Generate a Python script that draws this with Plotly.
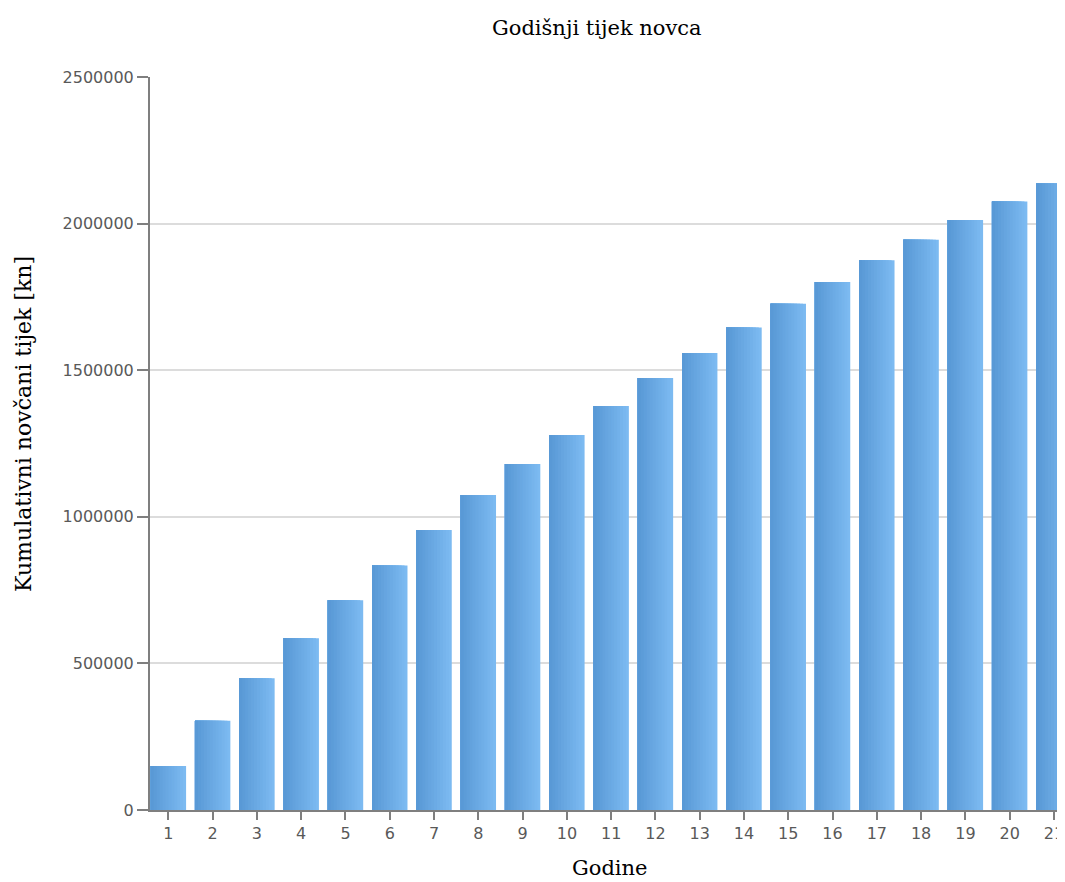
import plotly.graph_objects as go

# Data
years = list(range(1, 22))
cumulative_cash = [
    150000, 304000, 449000, 586000, 715000, 834000, 955000, 1074000, 1180000,
    1279000, 1378000, 1473000, 1559000, 1646000, 1727000, 1801000, 1875000,
    1945000, 2012000, 2075000, 2137000,
]
y_ticks = [0, 500000, 1000000, 1500000, 2000000, 2500000]

title_text = "Godišnji tijek novca"
x_title = "Godine"
y_title = "Kumulativni novčani tijek [kn]"

AXIS_COLOR = "#7f7f7f"
GRID_COLOR = "#dcdcdc"
TICK_FONT = dict(family="DejaVu Sans", size=16, color="#595959")
LIGHT = (124, 186, 241)
DARK = (89, 153, 214)
N_STEPS = 12
BAR_WIDTH = 0.8

# the page body has an 8px margin, so the figure is shifted by that much
OFF = 8
FIG_W, FIG_H = 1065 - OFF, 882 - OFF
M_L, M_T, M_B = 150 - OFF, 77 - OFF, 72


def blend(t):
    r, g, b = (int(round(LIGHT[i] + (DARK[i] - LIGHT[i]) * t)) for i in range(3))
    return f"rgb({r},{g},{b})"


fig = go.Figure()

# Stack progressively narrower bars (same left edge) to fake the
# left-dark / right-light gradient of the original bars
for k in range(N_STEPS):
    w = BAR_WIDTH * (N_STEPS - k) / N_STEPS
    fig.add_trace(go.Bar(
        x=years,
        y=cumulative_cash,
        width=w,
        offset=-BAR_WIDTH / 2,
        marker=dict(color=blend(k / (N_STEPS - 1)), line=dict(width=0)),
        hoverinfo="skip" if k else "x+y",
        showlegend=False,
    ))

fig.update_layout(
    width=FIG_W,
    height=FIG_H,
    barmode="overlay",
    paper_bgcolor="white",
    plot_bgcolor="white",
    margin=dict(l=M_L, r=0, t=M_T, b=M_B),
    font=TICK_FONT,
    showlegend=False,
    xaxis=dict(
        range=[0.585, 21.25],
        tickmode="array",
        tickvals=years,
        ticktext=[str(v) for v in years],
        showgrid=False,
        zeroline=False,
        showline=True,
        linecolor=AXIS_COLOR,
        linewidth=2,
        ticks="outside",
        ticklen=8,
        tickwidth=2,
        tickcolor=AXIS_COLOR,
        tickfont=TICK_FONT,
    ),
    yaxis=dict(
        range=[0, 2500000],
        tickmode="array",
        tickvals=y_ticks,
        ticktext=[str(v) for v in y_ticks],
        showgrid=True,
        gridcolor=GRID_COLOR,
        gridwidth=1.5,
        zeroline=False,
        showline=True,
        linecolor=AXIS_COLOR,
        linewidth=2,
        ticks="outside",
        ticklen=11,
        tickwidth=2,
        tickcolor=AXIS_COLOR,
        tickfont=TICK_FONT,
    ),
)

# text labels placed at the pixel centres measured on the reference
plot_w = FIG_W - M_L
plot_h = FIG_H - M_T - M_B
labels = [
    (title_text, 597, 28, 0, 21),
    (x_title, 610, 868, 0, 21),
    (y_title, 24, 424, -90, 22),
]
for text, px, py, angle, size in labels:
    fig.add_annotation(
        text=text,
        x=(px - OFF - M_L) / plot_w,
        y=(FIG_H - M_B - (py - OFF)) / plot_h,
        xref="paper", yref="paper",
        xanchor="center", yanchor="middle",
        showarrow=False, textangle=angle,
        font=dict(family="DejaVu Serif", size=size, color="black"),
    )

fig.write_html("out.html")
